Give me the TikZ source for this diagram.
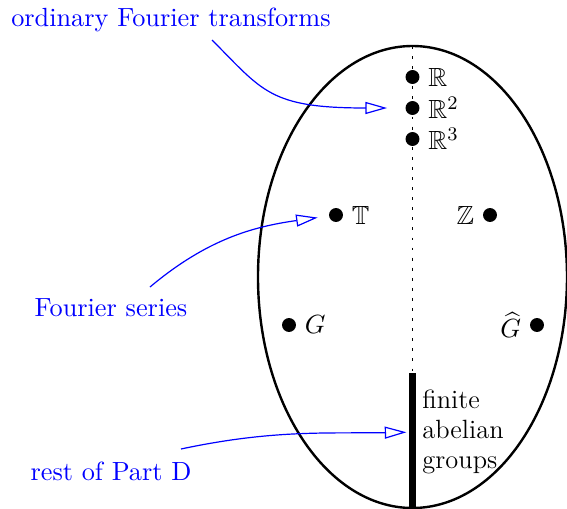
\documentclass[11pt,tikz,border=0pt]{standalone}
\usepackage{amsmath,amssymb}
\usepackage{tikz}
\usetikzlibrary{arrows.meta,positioning}
\tikzset{
  pt/.style={circle,fill=black,inner sep=0pt,minimum size=5.8pt},
  note/.style={text=blue,inner sep=0pt},
  hint/.style={-{Triangle[open,length=9pt,width=5pt]},draw=blue,line width=0.5pt}
}
\begin{document}
\begin{tikzpicture}[x=0.4167pt,y=-0.4167pt,label distance=-0.3pt]
\useasboundingbox (0,0) rectangle (567,509);
\draw[line width=1pt] (412.5,277) ellipse [x radius=154.5, y radius=231];
\draw[line width=0.45pt,dash pattern=on 1.2pt off 3pt] (412.5,46) -- (412.5,372);
\draw[line width=3pt] (412.5,373) -- (412.5,515);
\node[pt,label=right:$\mathbb{R}$] (r1) at (412.5,77) {};
\node[pt,label=right:$\mathbb{R}^2$] (r2) at (412.5,108) {};
\node[pt,label=right:$\mathbb{R}^3$] (r3) at (412.5,139) {};
\node[pt,label=right:$\mathbb{T}$] (tt) at (336,215) {};
\node[pt,label=left:$\mathbb{Z}$] (zz) at (490,215) {};
\node[pt,label=right:$G$] (g) at (289,325) {};
\node[pt,label=left:$\widehat{G}$] (gh) at (537,325) {};
\node[anchor=west,align=left,inner sep=0pt,font=\fontsize{11}{12.5}\selectfont] (fag) at (422,432) {finite\\abelian\\groups};
\node[note] (ft) at (171,20) {ordinary Fourier transforms};
\node[note] (fs) at (111,308) {Fourier series};
\node[note] (pd) at (111,471) {rest of Part D};
\coordinate (ftout) at (212,40);
\coordinate (fsout) at (150,287);
\coordinate (pdout) at (181,449);
\draw[hint,shorten >=7.5pt] (ftout) to[out=-45,in=180,out looseness=0.9,in looseness=1.7] (r2);
\draw[hint,shorten >=4.6pt] (fsout) to[out=40,in=188] (tt);
\draw[hint,shorten >=6.5pt] (pdout) to[out=12,in=181] (fag.west);
\end{tikzpicture}
\end{document}
